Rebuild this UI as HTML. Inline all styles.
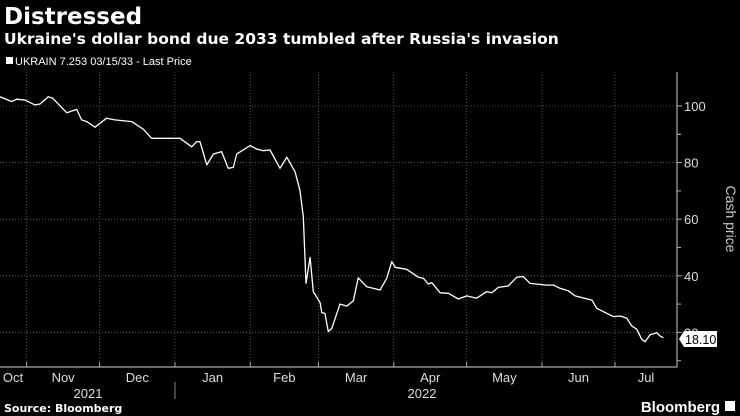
<!DOCTYPE html>
<html><head><meta charset="utf-8">
<style>
html,body{margin:0;padding:0;background:#000;}
svg{display:block;font-family:"Liberation Sans","DejaVu Sans",sans-serif;}
</style></head>
<body>
<svg id="chart" width="740" height="416" viewBox="0 0 740 416">
<rect width="740" height="416" fill="#000"/>
<text x="4" y="24" fill="#fff" font-size="23" font-weight="bold" font-family="DejaVu Sans, sans-serif">Distressed</text>
<text x="4" y="44" fill="#fff" font-size="15.5" font-weight="bold" font-family="DejaVu Sans, sans-serif">Ukraine's dollar bond due 2033 tumbled after Russia's invasion</text>
<g>
<rect x="6" y="57" width="7" height="7" fill="#fff"/>
<text x="15" y="65" fill="#fff" font-size="11">UKRAIN 7.253 03/15/33 - Last Price</text>
</g>
<g id="grid"></g>
<g id="axes"></g>
<path id="line" fill="none" stroke="#fff" stroke-width="1.3" stroke-linejoin="round"/>
<g>
<polygon points="679,339 684,331 717,331 717,347 684,347" fill="#fff"/>
<text id="lastText" x="685" y="344" fill="#000" font-size="12.5">18.10</text>
</g>
<text x="0" y="0" transform="translate(726,219) rotate(90)" text-anchor="middle" fill="#ccc" font-size="14">Cash price</text>
<text x="4" y="412" fill="#fff" font-size="11" font-weight="bold" font-family="DejaVu Sans, sans-serif">Source: Bloomberg</text>
<g>
<text x="720" y="412" fill="#fff" font-size="15" font-weight="bold" text-anchor="end">Bloomberg</text>
<rect x="725" y="401" width="10" height="10" fill="#fff"/>
</g>
</svg>
<script>
const days = [20.0,24.8,26.9,30.3,34.4,36.5,39.9,41.8,47.5,51.6,53.6,55.7,59.1,63.9,67.3,74.2,79.0,82.4,86.5,94.1,98.9,100.9,102.3,105.1,107.8,111.2,113.9,116.0,117.4,122.9,125.6,128.3,131.1,135.2,138.0,141.4,143.4,144.8,145.9,147.6,148.9,151.7,152.4,153.7,155.1,156.5,159.9,162.7,165.4,167.4,170.9,176.4,179.1,181.2,182.6,187.3,192.1,194.2,196.2,197.6,201.1,204.5,208.6,212.0,216.1,220.3,222.3,225.0,229.1,232.6,235.3,238.1,244.9,247.7,250.4,253.8,256.6,263.5,265.5,272.3,275.1,277.9,279.9,282.0,284.0,285.4,287.4,290.2,291.6,292.9];
const prices = [103.3,101.6,102.4,102.1,100.4,100.7,103.3,102.7,97.6,98.8,95.1,94.5,92.5,95.7,95.1,94.5,91.8,88.6,88.6,88.6,85.6,87.4,87.4,79.2,83.0,83.9,78.0,78.3,83.0,86.0,84.8,84.2,84.5,78.0,81.9,76.8,70.3,60.9,37.3,46.5,34.4,30.5,27.0,26.7,20.3,21.4,30.0,29.3,31.2,39.3,36.1,35.0,39.1,45.0,43.0,42.3,39.5,39.1,37.1,37.6,34.0,33.8,31.8,32.9,32.1,34.4,34.0,35.9,36.4,39.5,39.7,37.3,36.7,36.7,35.6,34.7,32.9,31.4,28.5,25.6,25.8,25.0,22.3,21.1,17.6,16.7,19.1,19.9,18.7,18.1];
const monthLabels = ["Oct","Nov","Dec","Jan","Feb","Mar","Apr","May","Jun","Jul"];
const monthStarts = [0,31,61,92,123,151,182,212,243,273];
const yTicks = [20,40,60,80,100];
const yearLabels = ["2021","2022"];

const X = d => -48.7 + d*2.431;
const Y = p => 106 + (100-p)*2.83;
const NS = "http://www.w3.org/2000/svg";
const gridG = document.getElementById('grid');
const axesG = document.getElementById('axes');
function mk(tag, attrs, parent){const e=document.createElementNS(NS,tag);for(const k in attrs)e.setAttribute(k,attrs[k]);parent.appendChild(e);return e;}
const pL=0,pR=677,pT=72,pB=367;

yTicks.forEach(v=>{
  const l=mk('line',{x1:pL,x2:pR,y1:Y(v),y2:Y(v),stroke:'#666','stroke-width':0.8,'stroke-dasharray':'1,2'},gridG);
  
  
  const t=mk('line',{x1:pR,x2:pR+5,y1:Y(v),y2:Y(v),stroke:'#aaa'},axesG);
  
  
  const tx=mk('text',{x:pR+7,y:Y(v)+5,fill:'#ddd','font-size':13},axesG);
  tx.textContent=v;
  
  
  const m=mk('line',{x1:pR,x2:pR+4,y1:Y(v-10),y2:Y(v-10),stroke:'#aaa'},axesG);
  
  
});
const m2=mk('line',{x1:pR,x2:pR+4,y1:Y(90),y2:Y(90),stroke:'#aaa'},axesG);



monthStarts.forEach((d,i)=>{
  const x=X(d);
  if(x>0){
    const g=mk('line',{x1:x,x2:x,y1:pT,y2:pB,stroke:'#666','stroke-width':0.8,'stroke-dasharray':'1,2'},gridG);
    
    
    const t=mk('line',{x1:x,x2:x,y1:pB-5,y2:pB,stroke:'#aaa'},axesG);
    
    
  }
  const next = i+1<monthStarts.length ? monthStarts[i+1] : 303;
  let cx=(X(d)+X(next))/2;
  if(i===0) cx=13;
  if(i===monthLabels.length-1) cx=646;
  const tx=mk('text',{x:cx,y:382,fill:'#ddd','font-size':13,'text-anchor':'middle'},axesG);
  tx.textContent=monthLabels[i];
  
  
});
const yx=[88,422];
yearLabels.forEach((y,i)=>{
  const t=mk('text',{x:yx[i],y:398,fill:'#ddd','font-size':13,'text-anchor':'middle'},axesG);
  t.textContent=y;
  
  
});
const sep=mk('line',{x1:X(92),x2:X(92),y1:382,y2:399,stroke:'#888'},axesG);


const xa=mk('line',{x1:pL,x2:pR,y1:pB,y2:pB,stroke:'#aaa','stroke-width':1.2},axesG);


const ya=mk('line',{x1:pR,x2:pR,y1:pT,y2:pB,stroke:'#aaa','stroke-width':1.2},axesG);



document.getElementById('line').setAttribute('d', days.map((d,i)=>(i?'L':'M')+X(d).toFixed(1)+','+Y(prices[i]).toFixed(1)).join(''));
const lastVal=prices[prices.length-1];
document.getElementById('lastText').textContent=lastVal.toFixed(2);
</script>
</body></html>
